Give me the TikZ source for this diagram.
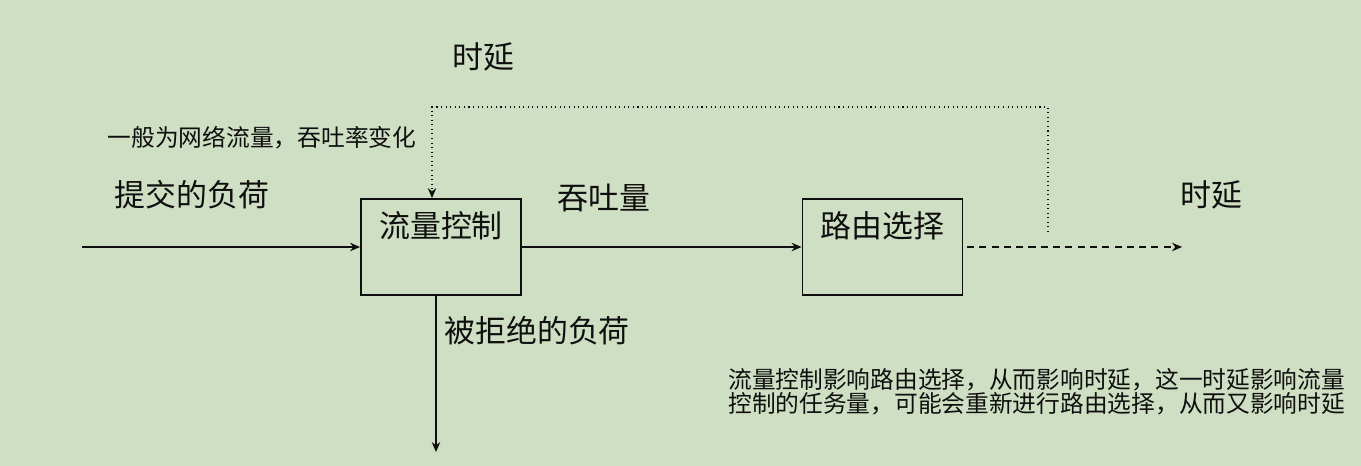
\documentclass[tikz,border=0pt]{standalone}
\usepackage{fontspec}
\setmainfont{Noto Sans CJK SC}
\usetikzlibrary{arrows.meta,positioning}
\definecolor{eyegreen}{RGB}{207,223,195}
\definecolor{inkblack}{RGB}{15,15,15}
\tikzset{
  base/.style={font=\fontsize{17.6}{20}\selectfont, inner sep=0pt, text=inkblack},
  note/.style={base, font=\fontsize{13.5}{13.8}\selectfont, align=left},
  blk/.style={rectangle, draw=inkblack, line width=1.1pt, minimum width=3.2cm, minimum height=1.92cm, inner sep=0pt},
  arr/.style={-{Stealth[length=2mm,width=1.7mm]}, line width=0.6pt, draw=inkblack},
  arrd/.style={arr, dash pattern=on 4pt off 3pt},
  arrdot/.style={arr, dotted},
}
\begin{document}
\begin{tikzpicture}[x=0.02cm,y=-0.02cm]
  % background
  \fill[eyegreen] (0,0) rectangle (1361,466);
  \useasboundingbox (0,0) rectangle (1361,466);
  % blocks
  \node[blk] (fc) at (441,247) {};
  \node[base] (fctext) at (441,226) {流量控制};
  \node[blk] (rs) at (882.5,247) {};
  \node[base] (rstext) at (882.5,226) {路由选择};
  % labels
  \node[base] (delaytop) at (483,57) {时延};
  \node[note] (change) at (262,138) {一般为网络流量，吞吐率变化};
  \node[base] (offered) at (192,195) {提交的负荷};
  \node[base] (thru) at (604,198) {吞吐量};
  \node[base] (delayout) at (1211,195) {时延};
  \node[base,anchor=west] (rejected) at (444,331) {被拒绝的负荷};
  \node[note,anchor=west] (explain) at (728,392) {流量控制影响路由选择，从而影响时延，这一时延影响流量\\控制的任务量，可能会重新进行路由选择，从而又影响时延};
  % connectors
  \coordinate (src) at (82,247);
  \coordinate (sink) at (1182,247);
  \coordinate (tap) at (1048,232);
  \coordinate (fb) at (432,107);
  \coordinate (drop) at (436,452);
  \draw[arr] (src) -- (fc.west);
  \draw[arr] (fc.east) -- (rs.west);
  \draw[arrd,shorten <=2pt] (rs.east) -- (sink);
  \draw[arrdot] (tap) |- (fb) -- (fb |- fc.north);
  \draw[arr] (drop |- fc.south) -- (drop);
\end{tikzpicture}
\end{document}
